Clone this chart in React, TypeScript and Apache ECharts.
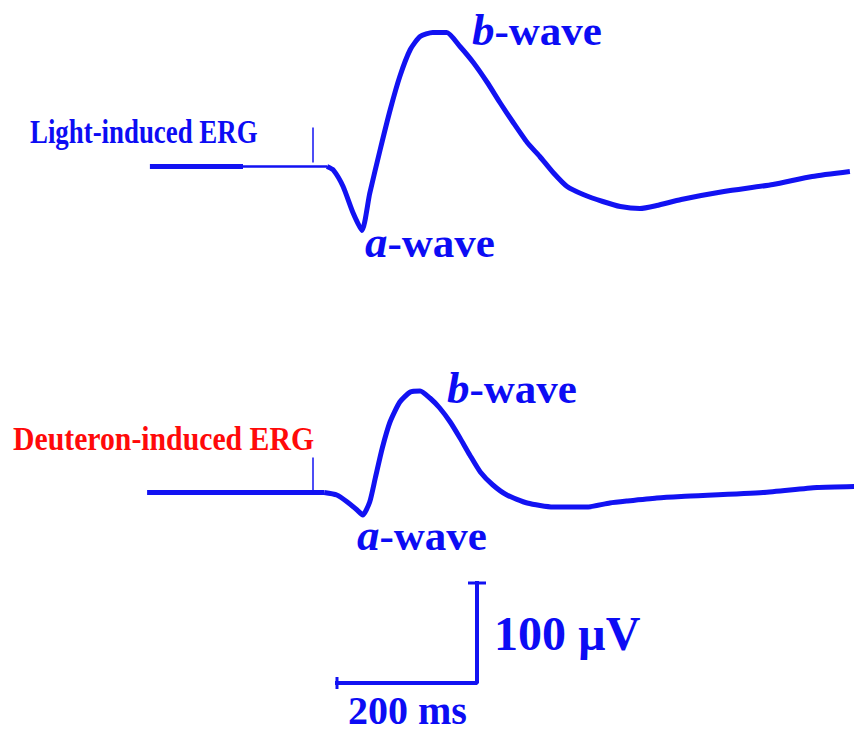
import { useEffect, useRef } from "react";
import * as echarts from "echarts";

// Light-induced ERG: time after stimulus onset (ms) and amplitude relative to baseline (µV)
const lightTime = [-233, -100, 20, 29, 43, 57, 70, 81, 96, 110, 124, 139, 153, 171, 191, 210, 229, 249, 267, 286, 306, 324, 343, 363, 386, 414, 439, 467, 491, 526, 587, 657, 713, 767];
const lightAmp = [0, 0, 0, -3.5, -20, -46, -64, -27, 17, 56, 90, 117, 130, 134, 134, 120, 104, 84, 64, 44, 24, 10, -6, -20, -28, -35, -40, -42, -39, -33, -25, -18, -10, -5];

// Deuteron-induced ERG
const deutTime = [-237, 16, 34, 49, 63, 71, 81, 89, 99, 110, 124, 139, 153, 167, 181, 196, 210, 224, 239, 257, 277, 306, 343, 391, 424, 449, 491, 526, 643, 720, 773];
const deutAmp = [0, 0, -2.5, -9.5, -17.5, -22.5, -9.5, 14.5, 44.5, 70.5, 90.5, 100.5, 101.5, 94.5, 84.5, 70.5, 54.5, 37.5, 20.5, 7.5, -2.5, -10.5, -14.5, -14.5, -10.5, -8.5, -5.5, -4, 0, 5, 6];

// Calibration bar
const scaleBarMs = 200;
const scaleBarUv = 100;

// Layout (display units: 1 µV per px vertically, 0.7 px per ms horizontally)
const W = 854;
const H = 733;
const PX_PER_MS = 0.7;
const STIM_X = 313;
const LIGHT_BASE = H - 166.5;
const DEUT_BASE = H - 492.5;
const BAR_CORNER_T = (477 - STIM_X) / PX_PER_MS;
const BAR_CORNER_V = H - 683;
const STIM_MARK = 35;

const BLUE = "#1212f2";
const TXT_BLUE = "#0c0cf4";
const RED = "#ff0a0a";
const SERIF = "'Liberation Serif', 'Times New Roman', serif";

function pts(t: number[], v: number[], base: number, from = -Infinity, to = Infinity) {
  const out: number[][] = [];
  t.forEach((x, i) => {
    if (x >= from && x <= to) out.push([x, v[i] + base]);
  });
  return out;
}

function lineSeries(data: any[], width: number, smooth: number | boolean = false) {
  return {
    type: "line",
    data,
    smooth,
    showSymbol: false,
    symbol: "none",
    silent: true,
    lineStyle: { color: BLUE, width, cap: "butt", join: "round" },
  };
}

function waveLabel(letter: string, x: number, baseline: number) {
  const F = 43;
  return {
    type: "text",
    x,
    y: baseline - 0.34 * F,
    style: {
      text: `{l|${letter}}{n|-wave}`,
      align: "left",
      verticalAlign: "middle",
      rich: {
        l: { fontFamily: SERIF, fontSize: F + 2, fontStyle: "italic", fontWeight: "bold", fill: TXT_BLUE },
        n: { fontFamily: SERIF, fontSize: F, fontWeight: "bold", fill: TXT_BLUE },
      },
    },
  };
}

function plainLabel(text: string, x: number, baseline: number, F: number, color: string, scaleX = 1) {
  return {
    type: "text",
    x,
    y: baseline - 0.34 * F,
    scaleX,
    style: {
      text,
      align: "left",
      verticalAlign: "middle",
      fontFamily: SERIF,
      fontSize: F,
      fontWeight: "bold",
      fill: color,
    },
  };
}

export default function App() {
  const ref = useRef<HTMLDivElement>(null);

  useEffect(() => {
    if (!ref.current) return;
    const chart = echarts.init(ref.current, null, { renderer: "svg" });

    const barTop = BAR_CORNER_V + scaleBarUv;
    const barLeft = BAR_CORNER_T - scaleBarMs;

    chart.setOption({
      animation: false,
      backgroundColor: "#ffffff",
      grid: { left: 0, top: 0, width: W, height: H },
      xAxis: {
        type: "value",
        min: -STIM_X / PX_PER_MS,
        max: (W - STIM_X) / PX_PER_MS,
        show: false,
      },
      yAxis: { type: "value", min: 0, max: H, show: false },
      series: [
        // Light-induced trace (thin segment just before the stimulus)
        lineSeries(pts(lightTime, lightAmp, LIGHT_BASE, -Infinity, -100), 5),
        lineSeries(pts(lightTime, lightAmp, LIGHT_BASE, -100, 20), 2.5),
        lineSeries(pts(lightTime, lightAmp, LIGHT_BASE, 20), 5, 0.2),
        // Deuteron-induced trace
        lineSeries(pts(deutTime, deutAmp, DEUT_BASE, -Infinity, 16), 5),
        lineSeries(pts(deutTime, deutAmp, DEUT_BASE, 16), 5, 0.2),
        // Stimulus markers
        lineSeries([[0, LIGHT_BASE + 4], [0, LIGHT_BASE + STIM_MARK + 4]], 1.5),
        lineSeries([[0, DEUT_BASE], [0, DEUT_BASE + STIM_MARK]], 1.5),
        // Calibration bar: 200 ms × 100 µV
        {
          type: "line",
          silent: true,
          symbol: "rect",
          showSymbol: true,
          lineStyle: { color: BLUE, width: 4, cap: "square" },
          itemStyle: { color: BLUE },
          data: [
            { value: [barLeft, BAR_CORNER_V], symbolSize: [3, 12] },
            { value: [BAR_CORNER_T, BAR_CORNER_V], symbolSize: 0 },
            { value: [BAR_CORNER_T, barTop], symbolSize: [18, 3] },
          ],
        },
      ],
      graphic: [
        plainLabel("Light-induced ERG", 30, 143, 34, TXT_BLUE, 0.79),
        plainLabel("Deuteron-induced ERG", 13, 450, 34, RED, 0.875),
        waveLabel("b", 472, 45),
        waveLabel("a", 365, 257),
        waveLabel("b", 447, 403),
        waveLabel("a", 357, 550),
        plainLabel("100 µV", 494, 650, 48, TXT_BLUE),
        plainLabel("200 ms", 348, 724, 40, TXT_BLUE),
      ],
    });

    return () => chart.dispose();
  }, []);

  return (
    <div
      ref={ref}
      style={{ position: "absolute", left: 0, top: 0, width: W, height: H, background: "#fff" }}
    />
  );
}
